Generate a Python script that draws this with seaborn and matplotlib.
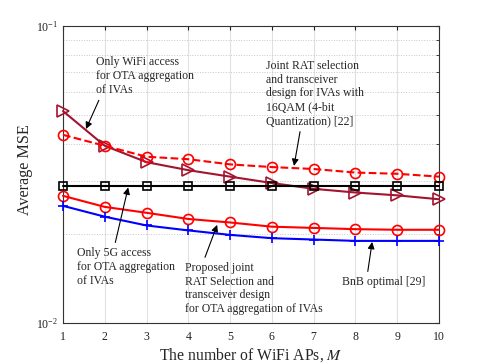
import numpy as np
import pandas as pd
import matplotlib
matplotlib.use("Agg")
import matplotlib.pyplot as plt
import seaborn as sns
from matplotlib.ticker import LogLocator, NullFormatter

M = [1, 2, 3, 4, 5, 6, 7, 8, 9, 10]
only_wifi = [0.0517, 0.0395, 0.0348, 0.0327, 0.0311, 0.0296, 0.0283, 0.0275, 0.0269, 0.0261]
qam16 = [0.0430, 0.0395, 0.0363, 0.0356, 0.0342, 0.0335, 0.0330, 0.0321, 0.0318, 0.0311]
only_5g = [0.0289] * 10
proposed = [0.0268, 0.0246, 0.0235, 0.0224, 0.0218, 0.0211, 0.0209, 0.0207, 0.0206, 0.0206]
bnb = [0.0248, 0.0228, 0.0213, 0.0205, 0.0198, 0.0193, 0.0191, 0.0189, 0.0189, 0.0189]

sns.set_style("white")
plt.rcParams['font.family'] = ['Liberation Serif', 'DejaVu Serif']
plt.rcParams['mathtext.fontset'] = 'stix'

fig = plt.figure(figsize=(4.85, 3.63), dpi=100)
ax = fig.add_axes([63/485, 1-323/363, (439-63)/485, (323-26)/363])

series = [
    (only_wifi, '#A2142F', '-', '>', 8),
    (qam16, '#FF0000', '--', 'o', 7.2),
    (only_5g, '#000000', '-', 's', 5.2),
    (proposed, '#FF0000', '-', 'o', 7.2),
    (bnb, '#0000FF', '-', '+', 7),
]
for vals, c, ls, mk, ms in series:
    df = pd.DataFrame({'M': M, 'MSE': vals})
    sns.lineplot(data=df, x='M', y='MSE', ax=ax, color=c, linestyle=ls,
                 marker=mk, markersize=ms, markerfacecolor='none',
                 markeredgecolor=c, markeredgewidth=1.2, linewidth=1.5,
                 clip_on=False, zorder=3)

ax.set_yscale('log')
ax.set_xlim(1, 10)
ax.set_ylim(1e-2, 1e-1)
ax.set_xticks(M)
ax.yaxis.set_major_locator(LogLocator(base=10, numticks=5))
ax.yaxis.set_minor_locator(LogLocator(base=10, subs=np.arange(2, 10), numticks=20))
ax.yaxis.set_minor_formatter(NullFormatter())
ax.grid(True, which='major', axis='x', color='#e0e0e0', linewidth=0.8)
ax.grid(True, which='both', axis='y', color='#c8c8c8', linestyle=':', linewidth=0.7)
ax.tick_params(axis='both', which='both', direction='in', top=True, right=True,
               labelsize=8.5, colors='#222222', length=3)
ax.tick_params(axis='x', pad=6)
ax.tick_params(axis='y', which='minor', length=2)
for s in ax.spines.values():
    s.set_color('#333333')
    s.set_linewidth(0.8)

ax.set_xlabel('The number of WiFi APs, $M$', fontsize=11.3, labelpad=2)
ax.set_ylabel('Average MSE', fontsize=11.6)
ax.yaxis.set_label_coords(-0.08, 0.515)

fs = 8.5
def arrow(rel):
    return dict(arrowstyle='-|>', color='black', lw=0.8, mutation_scale=10,
                relpos=rel, shrinkA=1, shrinkB=0)

ax.annotate('Only WiFi access\nfor OTA aggregation\nof IVAs', xy=(1.55, 0.045), xytext=(1.79, 0.0679),
            fontsize=fs, ha='left', va='center', arrowprops=arrow((0.05, 0)), linespacing=1.2)
ax.annotate('Joint RAT selection\nand transceiver\ndesign for IVAs with\n16QAM (4-bit\nQuantization) [22]',
            xy=(6.53, 0.0338), xytext=(5.85, 0.0593), fontsize=fs, ha='left', va='center',
            arrowprops=arrow((0.36, 0)), linespacing=1.2)
ax.annotate('Only 5G access\nfor OTA aggregation\nof IVAs', xy=(2.56, 0.0286), xytext=(1.335, 0.01545),
            fontsize=fs, ha='left', va='center', arrowprops=arrow((0.38, 1)), linespacing=1.2)
ax.annotate('Proposed joint\nRAT Selection and\ntransceiver design\nfor OTA aggregation of IVAs',
            xy=(4.69, 0.0214), xytext=(3.93, 0.01306), fontsize=fs, ha='left', va='center',
            arrowprops=arrow((0.13, 1)), linespacing=1.2)
ax.annotate('BnB optimal [29]', xy=(8.40, 0.01875), xytext=(7.68, 0.01373),
            fontsize=fs, ha='left', va='center', arrowprops=arrow((0.3, 1)))

fig.savefig('out.png', dpi=100)
